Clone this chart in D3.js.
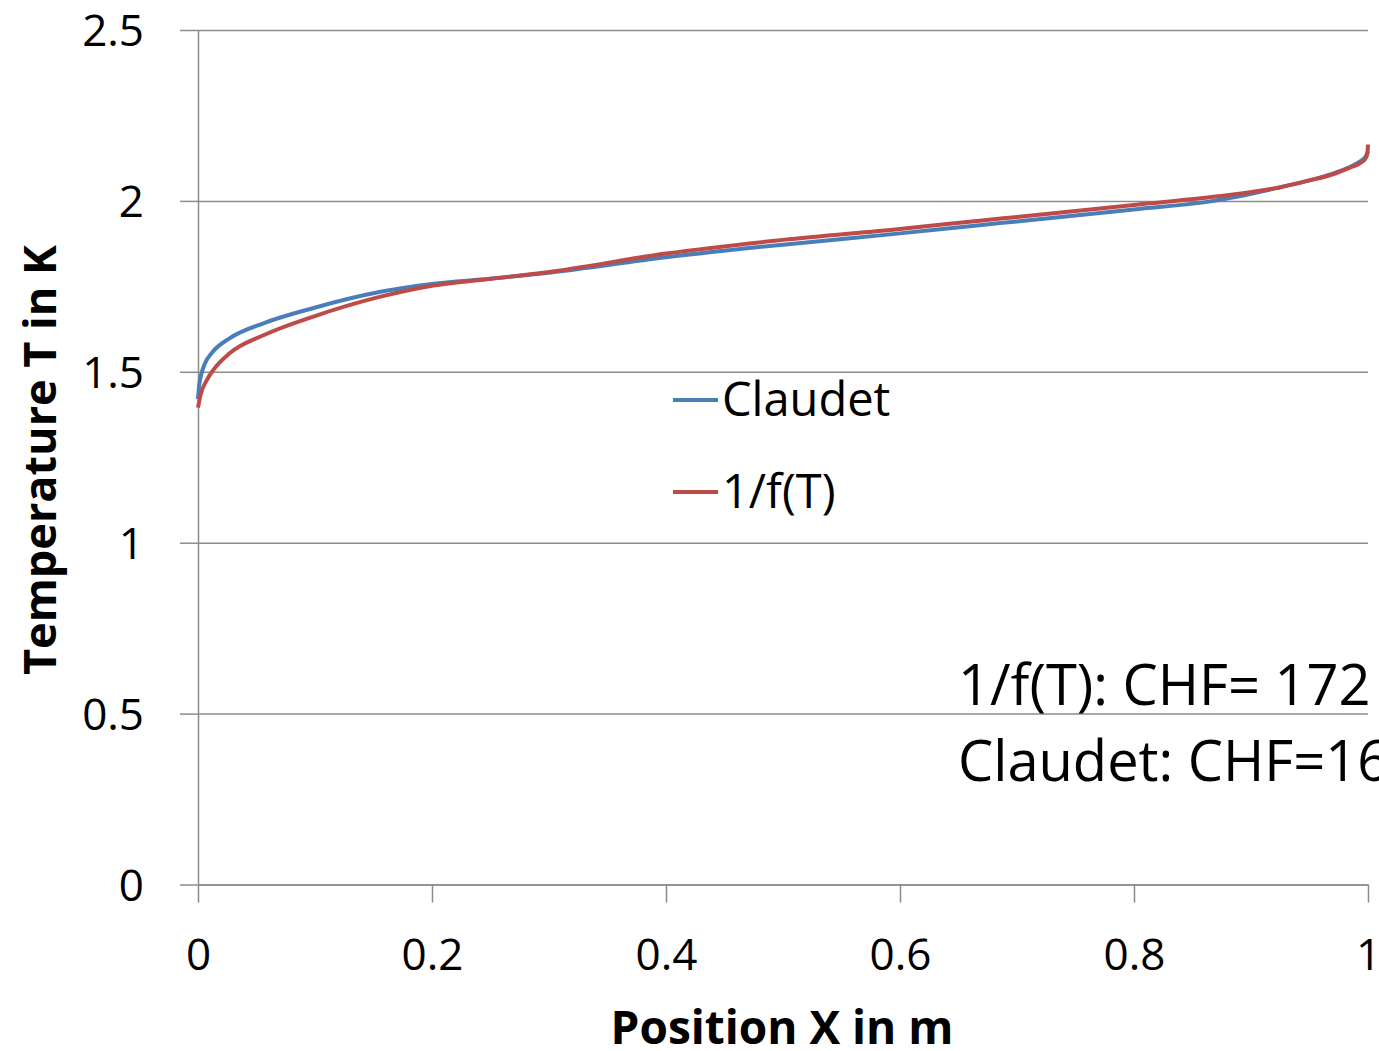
<!DOCTYPE html>
<html>
<head>
<meta charset="utf-8">
<script src="https://cdn.jsdelivr.net/npm/d3@7"></script>
<style>
  html, body { margin: 0; padding: 0; background: #fff; }
  svg { display: block; }
  text { font-family: "Open Sans", "Noto Sans", sans-serif; fill: #000; }
</style>
</head>
<body>
<svg id="chart" width="1379" height="1051"></svg>
<script>
// ---- data ----
const claudetX = [0, 0.001, 0.003, 0.006, 0.012, 0.027, 0.056, 0.098, 0.156, 0.2, 0.25, 0.3, 0.4, 0.5, 0.6, 0.668, 0.7, 0.8, 0.868, 0.925, 0.95, 0.97, 0.985, 0.993, 0.998, 1.0];
const claudetT = [1.42, 1.46, 1.495, 1.525, 1.556, 1.598, 1.642, 1.686, 1.734, 1.757, 1.772, 1.79, 1.835, 1.872, 1.905, 1.929, 1.94, 1.975, 2.0, 2.04, 2.06, 2.08, 2.10, 2.115, 2.13, 2.145];
const invfX = [0, 0.002, 0.0074, 0.013, 0.027, 0.056, 0.098, 0.156, 0.2, 0.25, 0.3, 0.4, 0.5, 0.6, 0.668, 0.7, 0.8, 0.811, 0.868, 0.925, 0.95, 0.97, 0.985, 0.993, 0.998, 0.9995, 1.0];
const invfT = [1.395, 1.43, 1.475, 1.505, 1.554, 1.607, 1.661, 1.72, 1.752, 1.772, 1.792, 1.846, 1.886, 1.918, 1.942, 1.953, 1.988, 1.992, 2.012, 2.04, 2.06, 2.078, 2.098, 2.11, 2.125, 2.14, 2.165];
const xTicks = [0, 0.2, 0.4, 0.6, 0.8, 1];
const yTicks = [0, 0.5, 1, 1.5, 2, 2.5];
const seriesNames = ["Claudet", "1/f(T)"];
const seriesColors = ["#4a7ebb", "#be4b48"];
const annotations = ["1/f(T): CHF= 172", "Claudet: CHF=16"];

// ---- layout ----
const svg = d3.select("#chart");
const plotL = 198, plotR = 1368, plotT = 30, plotB = 884.5;
const x = d3.scaleLinear().domain([0, 1]).range([plotL, plotR]);
const y = d3.scaleLinear().domain([0, 2.5]).range([plotB, plotT]);
const gridColor = "#8c8c8c";

// horizontal gridlines
svg.append("g")
  .attr("transform", `translate(${plotL},0)`)
  .call(d3.axisLeft(y).tickValues(yTicks).tickSize(-(plotR - plotL)).tickSizeOuter(0).tickFormat(""))
  .call(g => g.select(".domain").remove())
  .call(g => g.selectAll(".tick line").attr("stroke", gridColor).attr("stroke-width", 1.5));

// y axis
svg.append("g")
  .attr("transform", `translate(${plotL},0)`)
  .call(d3.axisLeft(y).tickValues(yTicks).tickSize(18).tickSizeOuter(0).tickPadding(36).tickFormat(d3.format("")))
  .call(g => g.select(".domain").attr("stroke", gridColor).attr("stroke-width", 1.5))
  .call(g => g.selectAll(".tick line").attr("stroke", gridColor).attr("stroke-width", 1.5))
  .call(g => g.selectAll(".tick text").attr("font-size", 44).attr("dy", "0.36em"));

// x axis
svg.append("g")
  .attr("transform", `translate(0,${plotB})`)
  .call(d3.axisBottom(x).tickValues(xTicks).tickSize(18).tickSizeOuter(0).tickPadding(36).tickFormat(d3.format("")))
  .call(g => g.select(".domain").attr("stroke", gridColor).attr("stroke-width", 1.5))
  .call(g => g.selectAll(".tick line").attr("stroke", gridColor).attr("stroke-width", 1.5))
  .call(g => g.selectAll(".tick text").attr("font-size", 44));

// series
const line = d3.line().x(d => x(d[0])).y(d => y(d[1])).curve(d3.curveMonotoneX);
const series = [d3.zip(claudetX, claudetT), d3.zip(invfX, invfT)];
series.forEach((s, i) => {
  svg.append("path").datum(s)
    .attr("fill", "none")
    .attr("stroke", seriesColors[i])
    .attr("stroke-width", 4)
    .attr("stroke-linejoin", "round")
    .attr("d", line);
});

// legend
const legend = svg.append("g");
seriesNames.forEach((n, i) => {
  const ly = 400 + i * 92;
  legend.append("line").attr("x1", 673).attr("x2", 718).attr("y1", ly).attr("y2", ly)
    .attr("stroke", seriesColors[i]).attr("stroke-width", 4);
  legend.append("text").attr("x", 722).attr("y", ly + 16).attr("font-size", 47).text(n);
});

// annotations
annotations.forEach((t, i) => {
  svg.append("text").attr("x", 958).attr("y", 705 + i * 76).attr("font-size", 56).text(t);
});

// axis titles
svg.append("text").attr("x", (612 + 952) / 2).attr("y", 1044).attr("text-anchor", "middle")
  .attr("font-size", 46).attr("font-weight", "bold").text("Position X in m");
svg.append("text").attr("transform", `translate(56,${(245 + 675) / 2}) rotate(-90)`).attr("text-anchor", "middle")
  .attr("font-size", 45).attr("font-weight", "bold").text("Temperature T in K");
</script>
</body>
</html>
